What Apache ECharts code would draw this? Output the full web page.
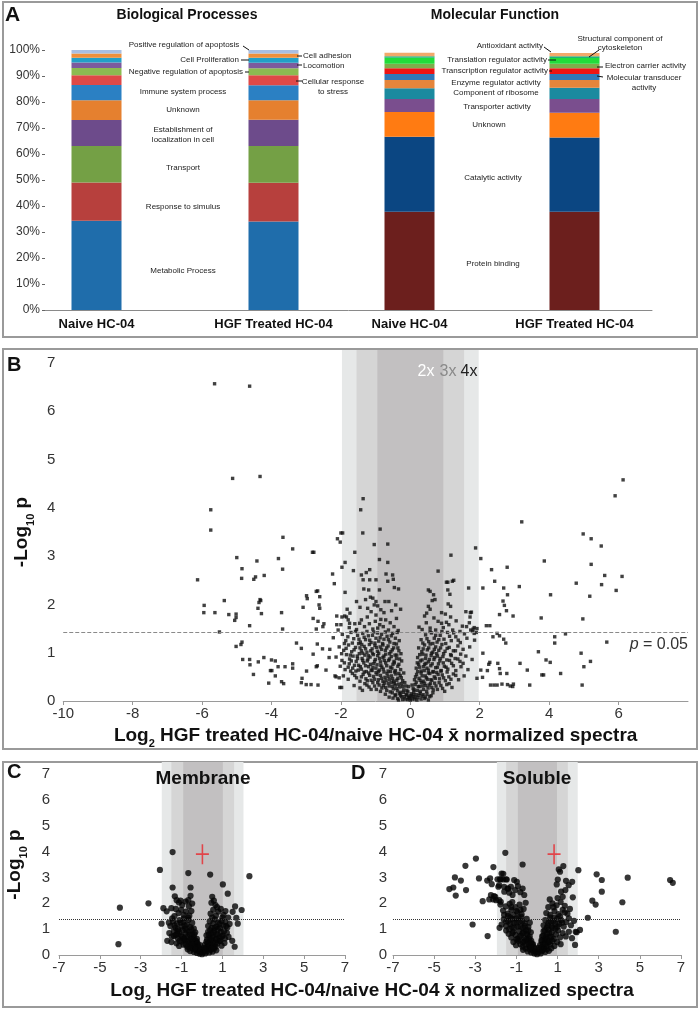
<!DOCTYPE html>
<html><head><meta charset="utf-8">
<script src="https://cdn.jsdelivr.net/npm/echarts/dist/echarts.min.js"></script>
<style>html,body{margin:0;padding:0;background:#fff}#c{width:700px;height:1009px}</style>
</head><body><div id="c"></div>
<script>
const FF = '"Liberation Sans", Arial, Helvetica, sans-serif';

// ---------- Panel A data ----------
const groupLabels = ['Naive HC-04', 'HGF Treated HC-04'];
const bpNames = ['Metabolic Process','Response to simulus','Transport','Establishment of localization in cell','Unknown','Immune system process','Cellular response to stress','Negative regulation of apoptosis','Locomotion','Cell Proliferation','Cell adhesion','Positive regulation of apoptosis'];
const bpNaive = [34.3,14.7,14.1,10.0,7.6,5.8,3.8,2.8,2.1,1.8,1.7,1.3];
const bpHGF   = [34.0,14.9,14.2,10.1,7.5,5.7,3.9,2.7,2.1,1.9,1.7,1.3];
const bpColors = ['#1f6dab','#b7403d','#74a045','#6d4b8b','#e5802f','#2b80c3','#df4947','#8cbb51','#7c5b9d','#22a0c7','#f0903b','#a9bfe2'];
const mfNames = ['Protein binding','Catalytic activity','Unknown','Transporter activity','Component of ribosome','Enzyme regulator activity','Molecular transducer activity','Transcription regulator activity','Electron carrier activity','Translation regulator activity','Structural component of cytoskeleton','Antioxidant activity'];
const mfNaive = [37.8,28.8,9.6,5.0,4.1,3.2,2.3,2.2,1.7,2.3,0.6,1.3];
const mfHGF   = [37.8,28.5,9.6,5.3,4.3,3.0,2.3,2.2,1.7,2.2,0.7,1.2];
const mfColors = ['#6c1f1d','#0b4682','#ff7b12','#7a4e8e','#1b8a9f','#e5853b','#2f78b9','#ee1414','#80ad4b','#22dd3a','#1fb37a','#f2a96b'];

// ---------- Panel B data (log2 ratio, -log10 p) ----------
const volcanoLeft = [[-5.64,6.57],[-4.63,6.52],[-5.12,4.61],[-4.33,4.65],[-5.75,3.96],[-5.75,3.54],[-3.67,3.39],[-3.39,3.15],[-5.0,2.97],[-3.8,2.95],[-4.42,2.9],[-2.82,3.08],[-2.78,3.08],[-4.85,2.74],[-3.68,2.73],[-4.21,2.6],[-4.46,2.57],[-4.51,2.52],[-4.86,2.54],[-6.13,2.51],[-2.24,2.63],[-2.19,2.43],[-5.36,2.08],[-4.31,2.08],[-4.36,2.04],[-4.33,2.1],[-5.94,1.98],[-5.95,1.83],[-5.63,1.83],[-5.23,1.79],[-5.02,1.8],[-5.02,1.73],[-5.06,1.67],[-4.39,1.92],[-4.29,1.81],[-3.71,1.83],[-2.99,2.18],[-2.97,2.12],[-3.09,1.94],[-2.71,2.27],[-2.67,2.28],[-2.61,2.16],[-2.63,1.99],[-2.61,1.92],[-2.8,1.71],[-2.66,1.65],[-2.49,1.6],[-2.52,1.54],[-2.12,1.76],[-4.63,1.56],[-3.68,1.49],[-5.5,1.43],[-4.85,1.22],[-4.88,1.17],[-5.02,1.13],[-3.28,1.2],[-3.14,1.09],[-2.68,1.18],[-2.8,0.97],[-2.53,1.08],[-2.32,1.07],[-2.34,0.9],[-4.83,0.86],[-4.63,0.86],[-4.38,0.81],[-4.22,0.9],[-4.0,0.85],[-3.89,0.83],[-4.62,0.75],[-3.81,0.71],[-3.61,0.71],[-3.39,0.77],[-3.39,0.68],[-4.03,0.63],[-3.99,0.63],[-4.52,0.55],[-3.89,0.52],[-2.99,0.62],[-2.71,0.71],[-2.68,0.73],[-2.43,0.64],[-2.14,0.5],[-3.12,0.47],[-4.08,0.37],[-3.71,0.4],[-3.65,0.36],[-3.14,0.38],[-3.0,0.34],[-2.86,0.34],[-2.66,0.33],[-2.71,1.49],[-2.17,0.52],[-2.05,0.48],[-2.03,0.28],[-1.98,0.28]];
const volcanoRight = [[6.13,4.58],[5.9,4.25],[3.21,3.71],[4.98,3.46],[5.21,3.36],[5.5,3.21],[3.86,2.9],[5.21,2.83],[6.1,2.58],[5.6,2.6],[4.78,2.44],[5.51,2.41],[5.93,2.29],[4.04,2.2],[5.17,2.17],[3.14,2.37],[2.79,2.77],[2.34,2.72],[2.03,2.95],[1.88,3.17],[2.43,2.48],[2.09,2.34],[1.68,2.34],[2.69,2.34],[2.67,2.07],[2.71,1.98],[2.8,2.2],[2.77,1.87],[2.96,1.76],[2.57,1.79],[3.77,1.72],[4.97,1.7],[4.47,1.39],[4.16,1.33],[4.16,1.2],[5.66,1.22],[4.92,0.99],[5.19,0.82],[5.0,0.71],[3.69,1.02],[3.91,0.85],[4.03,0.8],[4.33,0.57],[3.79,0.54],[3.84,0.54],[3.16,0.78],[3.37,0.64],[2.78,0.57],[2.52,0.78],[2.57,0.67],[2.22,0.63],[2.26,0.76],[2.19,1.56],[2.29,1.56],[2.38,1.33],[2.5,1.4],[2.57,1.35],[2.69,1.28],[2.75,1.2],[2.31,0.33],[2.41,0.33],[2.5,0.33],[2.64,0.35],[2.8,0.34],[2.88,0.31],[2.97,0.35],[2.95,0.3],[3.44,0.33],[4.95,0.33],[2.29,0.8],[2.59,0.57],[2.08,0.49],[1.92,0.47],[1.76,1.84],[1.72,1.74],[1.79,1.44],[1.9,1.42],[1.84,1.52],[2.09,0.99],[2.03,0.64]];
const volcanoUpper = [[-1.36,4.19],[-1.43,3.96],[-1.37,3.48],[-0.87,3.56],[-2.0,3.48],[-1.95,3.48],[-2.1,3.36],[-2.02,3.29],[-1.04,3.24],[-0.65,3.25],[-1.6,3.08],[-0.89,2.93],[-0.65,2.87],[-1.88,2.87],[-1.97,2.77],[-1.64,2.7],[-1.41,2.61],[-1.27,2.66],[-1.17,2.72],[-1.36,2.51],[-1.17,2.51],[-0.99,2.51],[-0.7,2.63],[-0.51,2.61],[-0.49,2.52],[-0.65,2.48],[-1.88,2.25],[-1.34,2.32],[-1.2,2.3],[-0.89,2.3],[-0.46,2.35],[-0.34,2.32],[-1.55,2.06],[-1.29,2.1],[-1.15,2.15],[-1.08,2.13],[-0.99,2.06],[-1.04,1.99],[-0.94,1.97],[-0.73,2.06],[-0.62,2.06],[-0.42,1.99],[-0.28,1.9],[-1.45,1.94],[-1.23,1.92],[-1.13,1.85],[-0.85,1.89],[-0.76,1.83],[-0.54,1.87],[-1.82,1.9],[-1.74,1.82],[-1.97,1.74],[-2.12,1.58],[-2.0,1.58],[-1.89,1.76],[-1.84,1.74],[-1.79,1.68],[-1.75,1.61],[-1.6,1.6],[-1.46,1.61],[-1.32,1.54],[-1.18,1.6],[-1.01,1.65],[-0.85,1.69],[-0.78,1.54],[-0.63,1.47],[-0.47,1.54],[-0.35,1.46],[-0.71,1.68],[-0.94,1.51],
[1.17,3.02],[0.8,2.69],[1.25,2.5],[1.21,2.48],[1.04,2.46],[1.08,2.46],[0.52,2.3],[0.57,2.27],[1.08,2.3],[1.14,2.21],[0.67,2.2],[0.63,2.08],[0.71,2.1],[1.6,1.85],[1.73,1.83],[1.09,2.01],[1.16,1.96],[0.52,1.96],[0.57,1.9],[0.47,1.82],[0.41,1.76],[0.25,1.53],[0.9,1.83],[1.01,1.8],[1.16,1.74],[0.8,1.65],[0.9,1.61],[1.04,1.63],[1.62,1.54],[1.74,1.47],[1.81,1.49],[1.84,1.4],[1.43,1.44],[1.56,1.39]];
const volcanoCore = [[-2.22,1.31],[-1.96,1.38],[-1.86,1.25],[-1.71,1.42],[-1.63,1.29],[-1.52,1.36],[-1.44,1.22],[-1.37,1.4],[-1.29,1.27],[-1.21,1.35],[-1.13,1.21],[-1.06,1.43],[-0.99,1.3],[-0.91,1.24],[-0.83,1.38],[-0.76,1.28],[-0.67,1.34],[-0.59,1.22],[-0.51,1.4],[-0.43,1.3],[0.31,1.27],[0.44,1.37],[0.53,1.23],[0.61,1.41],[0.69,1.3],[0.77,1.22],[0.86,1.36],[0.97,1.28],[1.07,1.42],[1.18,1.25],[1.31,1.33],[1.44,1.21],[1.63,1.3],[1.85,1.26],
[-2.05,1.12],[-1.92,1.05],[-1.78,1.16],[-1.69,1.02],[-1.58,1.11],[-1.49,1.19],[-1.41,1.04],[-1.33,1.13],[-1.25,1.01],[-1.18,1.17],[-1.1,1.08],[-1.02,1.15],[-0.95,1.03],[-0.87,1.12],[-0.8,1.19],[-0.72,1.05],[-0.64,1.14],[-0.56,1.02],[-0.48,1.1],[-0.4,1.18],[-0.33,1.04],[0.24,1.1],[0.33,1.02],[0.41,1.16],[0.49,1.06],[0.57,1.18],[0.65,1.01],[0.73,1.12],[0.82,1.05],[0.91,1.17],[1.0,1.03],[1.12,1.11],[1.24,1.04],[1.37,1.14],[1.52,1.07],[1.71,1.12],
[-2.14,0.91],[-1.97,0.84],[-1.84,0.96],[-1.75,0.87],[-1.65,0.93],[-1.56,0.82],[-1.47,0.98],[-1.39,0.88],[-1.31,0.95],[-1.24,0.83],[-1.16,0.91],[-1.09,0.99],[-1.01,0.86],[-0.94,0.94],[-0.86,0.81],[-0.79,0.9],[-0.71,0.97],[-0.63,0.84],[-0.55,0.92],[-0.47,0.82],[-0.39,0.95],[-0.31,0.87],[0.21,0.9],[0.29,0.83],[0.36,0.97],[0.44,0.88],[0.52,0.81],[0.6,0.94],[0.68,0.86],[0.76,0.98],[0.85,0.83],[0.94,0.92],[1.05,0.85],[1.16,0.96],[1.29,0.88],[1.43,0.82],[1.6,0.93],[1.78,0.86],
[-2.02,0.72],[-1.88,0.65],[-1.76,0.77],[-1.66,0.68],[-1.57,0.62],[-1.49,0.74],[-1.41,0.66],[-1.34,0.79],[-1.27,0.61],[-1.2,0.71],[-1.13,0.64],[-1.06,0.77],[-0.99,0.68],[-0.92,0.61],[-0.85,0.74],[-0.78,0.66],[-0.71,0.79],[-0.64,0.62],[-0.57,0.7],[-0.5,0.76],[-0.43,0.63],[-0.36,0.72],[-0.28,0.65],[0.17,0.68],[0.24,0.76],[0.31,0.62],[0.38,0.71],[0.45,0.78],[0.52,0.64],[0.59,0.73],[0.66,0.61],[0.73,0.69],[0.81,0.77],[0.89,0.63],[0.98,0.72],[1.08,0.66],[1.19,0.78],[1.31,0.63],[1.46,0.71],[1.66,0.65],
[-1.93,0.52],[-1.79,0.45],[-1.67,0.57],[-1.55,0.48],[-1.45,0.41],[-1.36,0.55],[-1.28,0.46],[-1.2,0.58],[-1.13,0.43],[-1.06,0.51],[-0.99,0.59],[-0.92,0.44],[-0.86,0.53],[-0.79,0.41],[-0.73,0.49],[-0.67,0.57],[-0.6,0.45],[-0.54,0.52],[-0.48,0.41],[-0.42,0.56],[-0.36,0.47],[-0.29,0.53],[-0.22,0.42],[0.12,0.44],[0.18,0.55],[0.25,0.47],[0.31,0.58],[0.37,0.41],[0.43,0.52],[0.49,0.45],[0.56,0.57],[0.62,0.43],[0.69,0.5],[0.76,0.59],[0.84,0.46],[0.92,0.54],[1.01,0.42],[1.11,0.5],[1.24,0.56],[1.39,0.44],[1.55,0.52],
[-1.62,0.32],[-1.45,0.27],[-1.31,0.36],[-1.19,0.29],[-1.08,0.38],[-0.98,0.24],[-0.9,0.33],[-0.82,0.27],[-0.75,0.37],[-0.68,0.22],[-0.61,0.31],[-0.55,0.38],[-0.49,0.25],[-0.43,0.33],[-0.37,0.21],[-0.31,0.29],[-0.25,0.36],[-0.19,0.23],[-0.13,0.31],[0.08,0.26],[0.14,0.34],[0.2,0.22],[0.26,0.3],[0.32,0.38],[0.38,0.24],[0.44,0.32],[0.51,0.27],[0.58,0.36],[0.66,0.23],[0.74,0.31],[0.83,0.38],[0.93,0.26],[1.05,0.34],[1.2,0.28],
[-0.72,0.14],[-0.61,0.08],[-0.52,0.17],[-0.44,0.11],[-0.37,0.05],[-0.31,0.15],[-0.25,0.09],[-0.2,0.18],[-0.15,0.04],[-0.1,0.12],[-0.05,0.07],[0.0,0.02],[0.03,0.15],[0.07,0.09],[0.12,0.04],[0.17,0.13],[0.22,0.07],[0.28,0.16],[0.34,0.1],[0.41,0.05],[0.48,0.14],[0.56,0.09],[0.65,0.17],[-0.07,0.19],[0.1,0.19],[-0.02,0.1],
[-2.08,1.47],[-1.76,1.52],[-1.55,1.48],[-1.41,1.68],[-1.24,1.74],[-1.08,1.49],[-0.99,1.78],[-0.88,1.58],[-0.58,1.62],[-0.4,1.71],[0.34,1.48],[0.46,1.62],[0.57,1.51],[0.68,1.72],[0.73,1.47],[0.95,1.52],[1.11,1.58],[1.22,1.47],[1.32,1.66],[1.5,1.55],[1.7,1.62],[1.92,1.5]];
const volcanoCoreDense = [[-1.9,1.19],[-1.8,1.33],[-1.67,1.2],[-1.58,1.44],[-1.48,1.28],[-1.4,1.17],[-1.33,1.32],[-1.25,1.44],[-1.17,1.26],[-1.09,1.36],[-1.02,1.2],[-0.95,1.41],[-0.87,1.31],[-0.79,1.16],[-0.72,1.43],[-0.63,1.27],[-0.55,1.35],[-0.47,1.19],[-0.38,1.42],[-0.32,1.25],
[0.36,1.2],[0.48,1.29],[0.57,1.44],[0.65,1.19],[0.73,1.36],[0.82,1.27],[0.91,1.44],[1.02,1.19],[1.13,1.34],[1.25,1.41],[1.38,1.26],
[-1.98,0.98],[-1.85,1.09],[-1.73,0.95],[-1.62,1.06],[-1.53,0.93],[-1.45,1.1],[-1.37,0.99],[-1.29,1.08],[-1.21,0.94],[-1.14,1.04],[-1.06,0.96],[-0.98,1.11],[-0.91,0.99],[-0.83,1.07],[-0.76,0.93],[-0.68,1.1],[-0.6,0.98],[-0.52,1.06],[-0.44,0.95],[-0.36,1.1],[-0.27,0.98],
[0.27,0.96],[0.37,1.08],[0.45,0.95],[0.53,1.1],[0.61,0.99],[0.69,1.07],[0.78,0.93],[0.87,1.1],[0.96,0.98],[1.06,1.09],[1.18,0.94],[1.3,1.04],[1.45,0.97],
[-1.9,0.79],[-1.79,0.7],[-1.7,0.83],[-1.61,0.74],[-1.52,0.88],[-1.44,0.71],[-1.37,0.84],[-1.29,0.73],[-1.22,0.87],[-1.15,0.76],[-1.08,0.69],[-1.03,0.82],[-0.96,0.75],[-0.89,0.88],[-0.82,0.7],[-0.75,0.84],[-0.68,0.73],[-0.6,0.87],[-0.53,0.68],[-0.46,0.79],[-0.4,0.88],[-0.33,0.76],[-0.25,0.83],
[0.2,0.79],[0.27,0.7],[0.34,0.85],[0.41,0.76],[0.48,0.68],[0.55,0.86],[0.63,0.77],[0.7,0.9],[0.78,0.7],[0.86,0.88],[0.95,0.79],[1.03,0.7],[1.13,0.84],[1.24,0.73],[1.37,0.87],[1.52,0.78],
[-1.72,0.62],[-1.6,0.53],[-1.5,0.64],[-1.41,0.5],[-1.33,0.6],[-1.24,0.42],[-1.17,0.53],[-1.1,0.63],[-1.03,0.45],[-0.96,0.55],[-0.89,0.64],[-0.83,0.47],[-0.76,0.6],[-0.7,0.43],[-0.64,0.51],[-0.57,0.61],[-0.51,0.46],[-0.45,0.6],[-0.39,0.43],[-0.33,0.57],[-0.26,0.48],[-0.19,0.58],
[0.15,0.5],[0.21,0.61],[0.28,0.43],[0.34,0.52],[0.4,0.63],[0.46,0.48],[0.52,0.58],[0.59,0.44],[0.65,0.6],[0.72,0.47],[0.8,0.55],[0.88,0.62],[0.96,0.48],[1.06,0.6],[1.17,0.45],[1.31,0.53],
[-1.38,0.22],[-1.25,0.33],[-1.13,0.24],[-1.03,0.31],[-0.94,0.38],[-0.86,0.2],[-0.78,0.32],[-0.71,0.28],[-0.64,0.37],[-0.58,0.19],[-0.52,0.3],[-0.46,0.37],[-0.4,0.26],[-0.34,0.35],[-0.28,0.18],[-0.22,0.3],[-0.16,0.38],[-0.1,0.22],[-0.05,0.3],
[0.05,0.33],[0.11,0.23],[0.17,0.39],[0.23,0.3],[0.29,0.2],[0.35,0.31],[0.41,0.37],[0.47,0.2],[0.54,0.33],[0.62,0.28],[0.7,0.37],[0.78,0.24],[0.88,0.32],[0.99,0.2],[1.12,0.36],
[-0.5,0.06],[-0.42,0.13],[-0.34,0.02],[-0.28,0.11],[-0.22,0.03],[-0.17,0.09],[-0.12,0.14],[-0.08,0.03],[-0.03,0.06],[0.02,0.11],[0.05,0.04],[0.09,0.13],[0.14,0.08],[0.19,0.02],[0.25,0.12],[0.31,0.04],[0.37,0.13],[0.44,0.08],[0.52,0.02],[0.6,0.11]];
const volcanoB = volcanoLeft.concat(volcanoRight, volcanoUpper, volcanoCore, volcanoCoreDense);

// ---------- Panels C / D data ----------
const membranePts = [[-1.44,3.98],[-2.06,3.29],[-0.67,3.17],[0.4,3.11],[2.32,3.05],[-1.44,2.61],[-0.56,2.61],[1.02,2.73],[1.26,2.37],[-2.62,2.0],[-1.33,2.27],[-1.24,2.12],[-1.13,2.03],[-1.05,2.1],[-0.97,1.93],[-0.8,2.07],[-0.67,2.12],[-0.56,2.29],[-0.48,1.99],[-0.64,1.89],[0.5,2.25],[0.58,2.1],[0.46,2.02],[0.66,1.93],[-1.89,1.81],[-1.73,1.69],[-1.5,1.81],[-1.46,1.42],[-1.98,1.21],[-1.62,1.25],[1.62,1.88],[1.94,1.74],[1.5,1.67],[1.75,1.21],[1.68,1.44],[-1.7,0.55],[-1.5,0.5],[-1.37,0.73],[-4.02,1.83],[-4.09,0.42],
[-1.28,1.78],[-1.15,1.62],[-1.02,1.75],[-0.9,1.55],[-0.78,1.68],[-0.62,1.52],[-0.52,1.7],[0.42,1.6],[0.55,1.75],[0.68,1.52],[0.8,1.68],[0.92,1.78],[1.05,1.55],[1.15,1.7],[1.28,1.45],[0.74,1.85],[-1.35,1.5],
[-1.55,1.12],[-1.42,1.3],[-1.3,1.05],[-1.22,1.22],[-1.1,1.35],[-1.0,1.1],[-0.92,1.28],[-0.82,1.02],[-0.74,1.18],[-0.66,1.36],[-0.58,1.08],[-0.48,1.24],[-0.4,1.02],[0.3,1.12],[0.38,1.3],[0.47,1.05],[0.55,1.22],[0.63,1.38],[0.71,1.1],[0.8,1.26],[0.88,1.04],[0.96,1.32],[1.05,1.15],[1.14,1.28],[1.24,1.06],[1.35,1.2],[-1.18,1.0],
[-1.6,0.85],[-1.48,0.72],[-1.38,0.92],[-1.28,0.78],[-1.18,0.65],[-1.1,0.88],[-1.02,0.74],[-0.94,0.96],[-0.86,0.62],[-0.8,0.82],[-0.72,0.7],[-0.64,0.9],[-0.56,0.64],[-0.48,0.8],[-0.4,0.68],[-0.33,0.88],[0.22,0.76],[0.3,0.9],[0.37,0.66],[0.45,0.84],[0.52,0.72],[0.6,0.95],[0.68,0.62],[0.76,0.8],[0.85,0.68],[0.93,0.9],[1.02,0.75],[1.12,0.64],[1.22,0.86],[-0.25,0.62],[1.3,0.7],
[-1.25,0.45],[-1.12,0.35],[-1.0,0.52],[-0.9,0.4],[-0.8,0.56],[-0.72,0.32],[-0.64,0.46],[-0.56,0.38],[-0.48,0.55],[-0.4,0.33],[-0.33,0.45],[-0.26,0.52],[-0.2,0.36],[0.15,0.4],[0.22,0.52],[0.29,0.34],[0.36,0.46],[0.43,0.57],[0.5,0.38],[0.58,0.5],[0.66,0.32],[0.75,0.44],[0.85,0.55],[0.96,0.36],[1.1,0.46],[1.48,0.55],[1.6,0.32],
[-0.7,0.22],[-0.58,0.15],[-0.48,0.26],[-0.4,0.12],[-0.32,0.2],[-0.25,0.08],[-0.18,0.16],[-0.12,0.05],[-0.06,0.12],[0.0,0.03],[0.05,0.1],[0.1,0.18],[0.16,0.06],[0.22,0.14],[0.28,0.24],[0.35,0.1],[0.43,0.2],[0.52,0.13],[0.6,0.25],[0.7,0.18],[-0.08,0.24],[0.08,0.27],
[-1.35,1.15],[-1.2,0.92],[-1.05,1.25],[-0.95,0.7],[-0.85,1.15],[-0.75,0.95],[-0.7,0.55],[-0.6,0.78],[-0.52,1.0],[-0.45,0.6],[-0.38,0.8],[-0.3,0.55],[-0.22,0.45],[-0.15,0.3],[-0.1,0.38],[-0.35,0.3],[-0.5,0.42],[-0.62,0.3],[-0.8,0.42],[-0.9,0.62],[-1.1,0.55],[-1.2,0.8],[-0.68,1.45],[-0.88,1.42],
[0.25,0.6],[0.33,0.78],[0.4,0.95],[0.48,0.62],[0.56,0.85],[0.62,1.05],[0.7,0.8],[0.78,1.0],[0.86,1.2],[0.9,0.55],[0.98,0.72],[1.08,0.92],[1.18,1.12],[0.2,0.3],[0.28,0.45],[0.38,0.35],[0.45,0.25],[0.55,0.3],[0.65,0.45],[0.72,0.6],[0.18,0.22],[1.0,1.45],[0.5,1.45]];
const solublePts = [[-1.54,3.95],[-0.7,3.5],[-2.97,3.73],[-3.48,3.45],[-2.12,3.4],[-3.99,3.0],[-3.7,2.88],[-4.26,2.55],[-4.07,2.61],[-3.95,2.3],[-3.45,2.51],[-3.13,1.18],[-2.82,2.96],[-2.64,2.08],[-2.42,2.88],[-2.4,0.73],[-2.32,2.15],[-2.2,2.74],[-2.09,2.28],[-1.99,2.12],[-1.88,2.64],[-1.8,2.93],[-1.72,3.15],[-1.64,2.92],[-1.6,2.64],[-1.47,2.92],[-1.4,2.57],
[-2.28,2.96],[-1.84,2.7],[-1.92,2.93],[-1.76,2.93],[-1.64,3.14],[-1.51,2.93],[-2.24,2.32],[-2.13,2.15],[-2.03,2.25],[-1.84,2.12],[-1.76,2.06],[-1.11,2.9],[-0.98,2.83],[-0.93,2.66],[-1.06,2.51],[-0.7,2.57],[-0.81,2.43],[-0.62,2.32],[-1.27,2.64],[-1.43,2.57],[-1.59,2.45],[-1.35,2.41],[-1.19,2.32],
[1.06,3.31],[1.28,3.44],[1.12,3.22],[1.41,2.87],[1.71,2.83],[1.54,2.7],[1.01,2.92],[0.96,2.73],[1.17,2.45],[1.38,2.51],[1.74,2.23],[1.25,2.25],
[2.01,3.28],[2.9,3.12],[3.15,2.9],[3.15,2.45],[2.69,2.1],[2.85,1.95],[4.15,2.04],[4.41,2.99],[6.47,2.9],[6.6,2.79],[2.47,1.44],[2.09,0.97],[3.83,0.9],[1.85,0.39],[1.93,0.88],
[-1.78,1.95],[-1.65,1.72],[-1.52,1.88],[-1.42,1.6],[-1.33,1.98],[-1.25,1.75],[-1.15,1.55],[-1.05,1.85],[-0.95,1.65],[-0.85,1.95],[-0.75,1.58],[-0.65,1.78],[-0.55,2.02],[-1.6,1.55],[-1.2,2.05],[0.45,1.62],[0.55,1.85],[0.65,1.55],[0.75,2.0],[0.85,1.7],[0.95,1.92],[1.05,1.58],[1.15,2.05],[1.25,1.75],[1.35,1.9],[1.48,1.6],[1.6,1.78],[0.62,2.15],[1.0,2.2],
[-1.82,1.05],[-1.72,1.18],[-1.62,1.38],[-1.5,1.12],[-1.4,1.3],[-1.3,1.45],[-1.22,1.08],[-1.12,1.25],[-1.02,1.42],[-0.94,1.1],[-0.85,1.3],[-0.76,1.48],[-0.68,1.05],[-0.6,1.22],[-0.5,1.4],[-0.42,1.08],[-0.35,1.25],[0.32,1.15],[0.4,1.35],[0.48,1.05],[0.56,1.25],[0.64,1.45],[0.72,1.1],[0.8,1.3],[0.9,1.02],[0.98,1.4],[1.08,1.2],[1.18,1.35],[1.3,1.1],[1.42,1.28],[1.55,1.42],[1.65,1.15],[1.8,1.32],[1.88,0.9],
[-1.5,0.95],[-1.38,0.82],[-1.25,0.68],[-1.15,0.9],[-1.05,0.78],[-0.95,0.62],[-0.87,0.92],[-0.78,0.75],[-0.7,0.85],[-0.62,0.65],[-0.54,0.96],[-0.46,0.78],[-0.38,0.62],[-0.3,0.88],[0.25,0.72],[0.32,0.92],[0.4,0.64],[0.48,0.82],[0.56,0.98],[0.64,0.7],[0.72,0.88],[0.82,0.62],[0.92,0.8],[1.02,0.95],[1.12,0.68],[1.25,0.85],[1.4,0.72],[1.55,0.9],[1.7,0.65],
[-1.15,0.5],[-1.02,0.38],[-0.9,0.55],[-0.8,0.42],[-0.7,0.32],[-0.62,0.52],[-0.54,0.4],[-0.46,0.58],[-0.38,0.35],[-0.3,0.48],[-0.22,0.4],[0.15,0.38],[0.22,0.52],[0.3,0.42],[0.38,0.56],[0.46,0.34],[0.55,0.48],[0.64,0.4],[0.74,0.55],[0.85,0.35],[0.98,0.5],[1.15,0.42],
[-0.68,0.2],[-0.55,0.25],[-0.45,0.14],[-0.36,0.22],[-0.28,0.1],[-0.2,0.18],[-0.13,0.06],[-0.06,0.14],[0.0,0.03],[0.06,0.1],[0.12,0.2],[0.18,0.06],[0.25,0.15],[0.32,0.25],[0.4,0.12],[0.48,0.22],[0.58,0.16],[0.7,0.26],[-0.1,0.25],[0.08,0.28],
[-1.4,1.5],[-1.3,1.2],[-1.2,1.4],[-1.1,1.05],[-1.0,1.25],[-0.9,1.45],[-0.8,1.1],[-0.72,1.3],[-0.65,0.9],[-0.58,1.12],[-0.5,0.82],[-0.42,0.95],[-0.35,0.7],[-0.28,0.55],[-0.2,0.42],[-0.15,0.3],[-0.3,0.3],[-0.42,0.45],[-0.55,0.6],[-0.7,0.5],[-0.85,0.7],[-1.0,0.6],[-1.2,0.85],[-1.35,1.0],[-1.5,1.3],[-1.0,1.7],[-0.8,1.75],[-1.25,1.85],
[0.22,0.58],[0.3,0.75],[0.38,0.95],[0.45,0.7],[0.52,1.15],[0.6,0.85],[0.68,1.3],[0.75,1.05],[0.85,1.45],[0.9,1.2],[1.0,1.1],[1.12,1.5],[1.22,1.25],[0.35,0.3],[0.42,0.45],[0.5,0.6],[0.6,0.52],[0.7,0.7],[0.2,0.3],[0.26,0.2],[1.35,1.65],[0.8,1.85]];
const crossMembrane = [[0.02,3.9]];
const crossSoluble = [[0.83,3.9]];
const sigLineB = 1.42, sigLineCD = 1.4;
// fold-change bands (log2): 4x, 3x, 2x
const bandsB = [[-1.97,1.97],[-1.55,1.55],[-0.95,0.95]];
const bandsC = [[-1.97,2.03],[-1.5,1.57],[-0.92,1.02]];
const bandsD = [[-1.95,1.98],[-1.5,1.5],[-0.93,0.97]];
const bandFill = ['#e6e8e8','#d5d5d5','#c2c0c1'];

// ---------- helpers ----------
function bandSeries(idx, list, top) {
  return {type:'custom', xAxisIndex:idx, yAxisIndex:idx, silent:true, clip:false, z:1,
    data: list.map((b,k)=>[b[0], b[1], 0, top, k]),
    encode:{x:[0,1], y:[2,3]},
    renderItem:(p, api)=>{
      const a = api.coord([api.value(0), api.value(3)]);
      const b = api.coord([api.value(1), api.value(2)]);
      return {type:'rect', shape:{x:a[0], y:a[1], width:b[0]-a[0], height:b[1]-a[1]}, style:{fill: bandFill[api.value(4)]}};
    }};
}
function txt(x, y, text, size, opt) {
  opt = opt || {};
  const st = {text:text, fill: opt.color || '#222', font: (opt.bold ? 'bold ' : '') + size + 'px ' + FF,
    align: opt.align || 'center', textAlign: opt.align || 'center', verticalAlign:'middle', textVerticalAlign:'middle',
    lineHeight: opt.lh || Math.round(size*1.2)};
  if (opt.rich) st.rich = opt.rich;
  return {type:'text', x:x, y:y, silent:true, z:50, style:st};
}
function ln(x1,y1,x2,y2){ return {type:'line', silent:true, z:50, shape:{x1,y1,x2,y2}, style:{stroke:'#111', lineWidth:1}}; }
function frame(x,y,w,h){ return {type:'rect', silent:true, z:0, shape:{x,y,width:w,height:h}, style:{fill:'none', stroke:'#9a9a9a', lineWidth:2}}; }

const subRich = {s:{fontSize:11, fontWeight:'bold', color:'#111', verticalAlign:'bottom', lineHeight:28, fontFamily:FF}};
const nameStyle = {fontSize:19, fontWeight:'bold', color:'#111', lineHeight:28, fontFamily:FF, rich:subRich};
const axCol = '#9a9a9a';
function volcX(grid, min, max, name) {
  const o = {gridIndex:grid, type:'value', min:min, max:max, interval:2,
    axisLine:{show:true, lineStyle:{color:axCol}}, axisTick:{show:true, length:4, lineStyle:{color:axCol}},
    axisLabel:{fontSize:15, color:'#333', margin:5, fontFamily:FF}, splitLine:{show:false}};
  if (name) { o.name = name; o.nameLocation='middle'; o.nameGap=20; o.nameTextStyle=nameStyle; }
  return o;
}
function volcY(grid, name, gap, margin) {
  const o = {gridIndex:grid, type:'value', min:0, max:7, interval:1,
    axisLine:{show:true, lineStyle:{color:axCol}}, axisTick:{show:true, length:4, lineStyle:{color:axCol}},
    axisLabel:{fontSize:15, color:'#333', margin:margin, fontFamily:FF}, splitLine:{show:false}};
  if (name) { o.name = name; o.nameLocation='middle'; o.nameGap=gap; o.nameRotate=90; o.nameTextStyle=nameStyle; }
  return o;
}
const crossPath = 'path://M4.4,0H5.6V4.6H10V5.4H5.6V10H4.4V5.4H0V4.6H4.4Z';

const series = [];
bpNames.forEach((n,i)=>series.push({type:'bar', name:n, xAxisIndex:1, yAxisIndex:1, stack:'bp', barWidth:50,
  data:[bpNaive[i], bpHGF[i]], itemStyle:{color:bpColors[i]}}));
mfNames.forEach((n,i)=>series.push({type:'bar', name:n, xAxisIndex:2, yAxisIndex:2, stack:'mf', barWidth:50,
  data:[mfNaive[i], mfHGF[i]], itemStyle:{color:mfColors[i]}}));
series.push(bandSeries(3, bandsB, 7.27));
series.push(bandSeries(4, bandsC, 7.46));
series.push(bandSeries(5, bandsD, 7.46));
series.push({type:'scatter', xAxisIndex:3, yAxisIndex:3, z:3, data:volcanoB, symbol:'rect', symbolSize:3.4,
  itemStyle:{color:'#111'},
  markLine:{silent:true, symbol:'none', data:[{yAxis:sigLineB}], lineStyle:{type:'dashed', color:'#8a8a8a', width:1},
    label:{show:true, position:'insideEndBottom', distance:[0,4], formatter:'{i|p} = 0.05', fontSize:16, color:'#333', fontFamily:FF,
      rich:{i:{fontStyle:'italic', fontSize:16, color:'#333', fontFamily:FF}}}}});
[[4, membranePts, crossMembrane],[5, solublePts, crossSoluble]].forEach(([g, pts, cr])=>{
  series.push({type:'scatter', xAxisIndex:g, yAxisIndex:g, z:3, data:pts, symbol:'circle', symbolSize:6.2,
    itemStyle:{color:'#050505'},
    markLine:{silent:true, symbol:'none', data:[{yAxis:sigLineCD}], lineStyle:{type:'dotted', color:'#333', width:1}, label:{show:false}}});
  series.push({type:'scatter', xAxisIndex:g, yAxisIndex:g, z:4, data:cr, symbol:crossPath, symbolSize:[13,20],
    symbolKeepAspect:false, itemStyle:{color:'#e8262c'}});
});

const catAxis = (g)=>({gridIndex:g, type:'category', data:groupLabels, axisLine:{show:false}, axisTick:{show:false},
  axisLabel:{interval:0, fontSize:13, fontWeight:'bold', color:'#111', margin:8, fontFamily:FF}});
const hiddenY = (g)=>({gridIndex:g, type:'value', min:0, max:100, show:false});

const graphics = [
  frame(3,2,694,335), frame(3,349,694,400), frame(3,762,694,245),
  txt(5,15,'A',21,{bold:true, align:'left', color:'#111'}),
  txt(7,365,'B',20,{bold:true, align:'left', color:'#111'}),
  txt(7,772,'C',20,{bold:true, align:'left', color:'#111'}),
  txt(351,773,'D',20,{bold:true, align:'left', color:'#111'}),
  txt(187,15,'Biological Processes',14,{bold:true, color:'#111'}),
  txt(495,15,'Molecular Function',14,{bold:true, color:'#111'}),
  // Biological process labels
  txt(184,45,'Positive regulation of apoptosis',8),
  txt(239,60,'Cell Proliferation',8,{align:'right'}),
  txt(243,72,'Negative regulation of apoptosis',8,{align:'right'}),
  txt(183,92,'Immune system process',8),
  txt(183,110,'Unknown',8),
  txt(183,135,'Establishment of\nlocalization in cell',8,{lh:10}),
  txt(183,168,'Transport',8),
  txt(183,207,'Response to simulus',8),
  txt(183,271,'Metabolic Process',8),
  txt(303,56,'Cell adhesion',8,{align:'left'}),
  txt(303,66,'Locomotion',8,{align:'left'}),
  txt(333,87,'Cellular response\nto stress',8,{lh:10}),
  ln(243,46,249,50), ln(241,60,249,60), ln(245,72,249,72), ln(297,56,302,56), ln(297,65,302,65), ln(296,81,302,81),
  // Molecular function labels
  txt(543,46,'Antioxidant activity',8,{align:'right'}),
  txt(547,60,'Translation regulator activity',8,{align:'right'}),
  txt(548,71,'Transcription regulator activity',8,{align:'right'}),
  txt(496,83,'Enzyme regulator activity',8),
  txt(496,93,'Component of ribosome',8),
  txt(497,107,'Transporter activity',8),
  txt(489,125,'Unknown',8),
  txt(493,178,'Catalytic activity',8),
  txt(493,264,'Protein binding',8),
  txt(620,43,'Structural component of\ncytoskeleton',8,{lh:9}),
  txt(605,66,'Electron carrier activity',8,{align:'left'}),
  txt(644,83,'Molecular transducer\nactivity',8,{lh:10}),
  ln(544,47,551,52), ln(548,60,556,60), ln(549,71,552,71), ln(589,57,599,50), ln(597,67,603,67), ln(597,76,603,77),
  // fold labels
  txt(426,372,'2x',16,{color:'#ffffff'}),
  txt(448,372,'3x',16,{color:'#8a8a8a'}),
  txt(469,372,'4x',16,{color:'#222'}),
  txt(203,779,'Membrane',19,{bold:true, color:'#111'}),
  txt(537,779,'Soluble',19,{bold:true, color:'#111'}),
  txt(372,991,'Log{s|2} HGF treated HC-04/naive HC-04 x\u0304 normalized spectra',19,{bold:true, color:'#111', lh:28, rich:subRich})
];

const option = {
  animation:false,
  textStyle:{fontFamily:FF},
  grid:[
    {left:45, top:50, width:607, height:260},
    {left:8, top:50, width:354, height:260},
    {left:327, top:50, width:330, height:260},
    {left:52, top:363, width:636, height:338},
    {left:58, top:774, width:287, height:181},
    {left:393, top:774, width:288, height:181}
  ],
  xAxis:[
    {gridIndex:0, type:'value', min:0, max:1, axisLine:{show:true, lineStyle:{color:'#8a8a8a'}}, axisTick:{show:false}, axisLabel:{show:false}, splitLine:{show:false}},
    catAxis(1), catAxis(2),
    volcX(3,-10,8,'Log{s|2} HGF treated HC-04/naive HC-04 x\u0304 normalized spectra'),
    volcX(4,-7,7), volcX(5,-7,7)
  ],
  yAxis:[
    {gridIndex:0, type:'value', min:0, max:100, interval:10, axisLine:{show:false}, axisTick:{show:true, length:3, lineStyle:{color:'#666'}},
      axisLabel:{formatter:'{value}%', fontSize:12, color:'#333', margin:5, fontFamily:FF}, splitLine:{show:false}},
    hiddenY(1), hiddenY(2),
    volcY(3,'-Log{s|10} p',22,8), volcY(4,'-Log{s|10} p',30,9), volcY(5,null,0,6)
  ],
  series:series,
  graphic:graphics
};
option.xAxis[3].axisLabel.showMaxLabel = false;
const chart = echarts.init(document.getElementById('c'));
chart.setOption(option);
</script></body></html>
